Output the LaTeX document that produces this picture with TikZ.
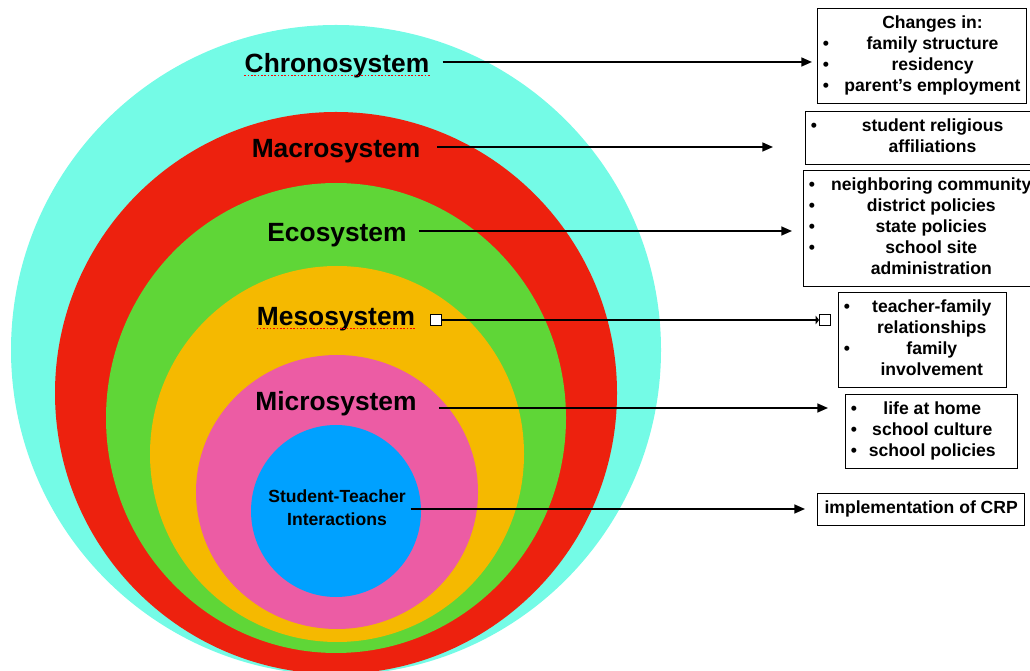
\documentclass[tikz,border=0pt]{standalone}
\usepackage{fontspec}
\setmainfont{Liberation Sans}
\usepackage{array}
\usetikzlibrary{arrows.meta}

\definecolor{chronoCol}{HTML}{74FBE6}
\definecolor{macroCol}{HTML}{ED210E}
\definecolor{ecoCol}{HTML}{5FD637}
\definecolor{mesoCol}{HTML}{F5B900}
\definecolor{microCol}{HTML}{EC5CA4}
\definecolor{coreCol}{HTML}{00A1FF}
\newcolumntype{C}[1]{>{\centering\arraybackslash}p{#1}}

\begin{document}
\begin{tikzpicture}[x=0.02cm, y=-0.02cm,
  layer/.style={font=\fontsize{15}{18}\selectfont\bfseries, inner sep=0pt, anchor=base},
  listbox/.style={draw, line width=0.6pt, anchor=north west, inner sep=3pt, font=\fontsize{10}{12}\selectfont\bfseries},
  link/.style={line width=1pt, -{Triangle[length=6pt, width=5pt]}},
  handle/.style={draw, fill=white, line width=0.5pt, minimum size=0.22cm, inner sep=0pt},
  spell/.style={red, densely dotted, line width=0.9pt}]
\useasboundingbox (0,0) rectangle (1030,671);
% Rings
\fill[chronoCol] (336,350) circle [radius=325];
\fill[macroCol] (336,393) circle [radius=281];
\fill[ecoCol] (336,418) ellipse [x radius=230, y radius=235];
\fill[mesoCol] (337,454) ellipse [x radius=187, y radius=188];
\fill[microCol] (337,492) ellipse [x radius=141, y radius=137];
\fill[coreCol] (336,511) ellipse [x radius=85, y radius=86];
% Layer names
\node[layer] (chrono) at (337,72.5) {Chronosystem};
\node[layer] (macro) at (336,157.5) {Macrosystem};
\node[layer] (eco) at (337,241.5) {Ecosystem};
\node[layer] (meso) at (336,325.5) {Mesosystem};
\node[layer] (micro) at (336,410.5) {Microsystem};
\node[font=\fontsize{10}{13}\selectfont\bfseries, align=center, inner sep=0pt] (core) at (337,508) {Student-Teacher\\Interactions};
\draw[spell] ([shift={(0,3)}]chrono.base west) -- ([shift={(0,3)}]chrono.base east);
\draw[spell] ([shift={(0,3)}]meso.base west) -- ([shift={(0,3)}]meso.base east);
% Lists
\node[listbox] (chronoBox) at (817,8) {\begin{tabular}{@{}p{0.42cm}@{}C{3.55cm}@{}}
 & Changes in:\\
\textbullet & family structure\\
\textbullet & residency\\
\textbullet & parent's employment
\end{tabular}};
\node[listbox] (macroBox) at (805,111) {\begin{tabular}{@{}p{0.54cm}@{}C{3.79cm}@{}}
\textbullet & student religious\\
 & affiliations
\end{tabular}};
\node[listbox] (ecoBox) at (803,170) {\begin{tabular}{@{}p{0.43cm}@{}C{4.04cm}@{}}
\textbullet & neighboring community\\
\textbullet & district policies\\
\textbullet & state policies\\
\textbullet & school site\\
 & administration
\end{tabular}};
\node[listbox] (mesoBox) at (838,292) {\begin{tabular}{@{}p{0.37cm}@{}C{2.78cm}@{}}
\textbullet & teacher-family\\
 & relationships\\
\textbullet & family\\
 & involvement
\end{tabular}};
\node[listbox] (microBox) at (845,394) {\begin{tabular}{@{}p{0.3cm}@{}C{2.66cm}@{\hspace{0.27cm}}}
\textbullet & life at home\\
\textbullet & school culture\\
\textbullet & school policies
\end{tabular}};
\node[listbox, text height=8.4pt, text depth=3.6pt, inner xsep=4pt] (crpBox) at (817,493) {implementation of CRP};
% Arrows
\coordinate (chronoTip) at (812,62);
\coordinate (macroTip) at (773,147);
\coordinate (ecoTip) at (792,231);
\coordinate (microTip) at (828,408);
\coordinate (coreTip) at (805,509);
\node[handle] (mesoL) at (436,320) {};
\node[handle] (mesoR) at (825,320) {};
\draw[link] ([shift={(13,-10.5)}]chrono.base east) -- (chronoTip);
\draw[link] ([shift={(16.5,-10.5)}]macro.base east) -- (macroTip);
\draw[link] ([shift={(12,-10.5)}]eco.base east) -- (ecoTip);
\draw[line width=1.2pt, -{Triangle[length=2pt, width=5pt]}] (mesoL) -- (mesoR);
\draw[link] ([shift={(22,-2.5)}]micro.base east) -- (microTip);
\draw[link] ([shift={(4.5,1)}]core.east) -- (coreTip);
\end{tikzpicture}
\end{document}
